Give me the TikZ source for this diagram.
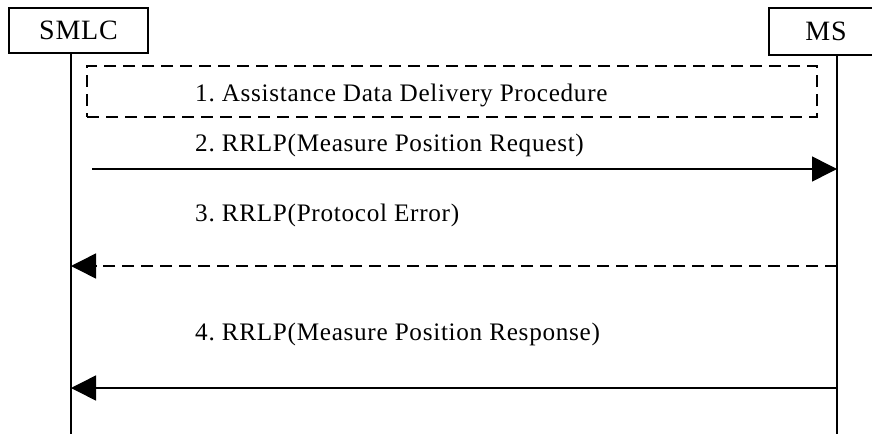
\documentclass[tikz,border=0pt]{standalone}
\usepackage{fontspec}
\setmainfont{Liberation Serif}[LetterSpace=2.8]
\usetikzlibrary{arrows.meta}
\begin{document}
\frenchspacing
\begin{tikzpicture}[x=1pt,y=-1pt,
  entity/.style={draw,line width=1.2pt,minimum height=45pt,inner sep=0pt,font=\fontsize{28}{31}\selectfont},
  lifeline/.style={line width=1.8pt},
  msg/.style={line width=1.5pt,-{Triangle[length=25pt,width=25pt]}},
  lbl/.style={anchor=base west,inner sep=0pt,font=\fontsize{25.2}{28}\selectfont},
  procbox/.style={draw,line width=1.5pt,dash pattern=on 12pt off 7pt,inner sep=0pt}]
\useasboundingbox (0,0) rectangle (872,434);
\clip (0,0) rectangle (872,434);
\fill[white] (0,0) rectangle (872,434);
% entities
\node[entity,minimum width=139pt] (smlc) at (78.5,30.5) {SMLC};
\node[entity,minimum width=114pt,minimum height=47pt] (ms) at (826,31.5) {MS};
% lifelines
\coordinate (smlcA) at (71,53);
\coordinate (smlcB) at (71,434);
\coordinate (msA) at (837,55);
\coordinate (msB) at (837,434);
\draw[lifeline] (smlcA) -- (smlcB);
\draw[lifeline] (msA) -- (msB);
% procedure box
\node[procbox,minimum width=730pt,minimum height=51pt] (proc) at (452,91.5) {};
\node[lbl] (l1) at (195,101) {1. Assistance Data Delivery Procedure};
% message 2
\node[lbl] (l2) at (195,151) {2. RRLP(Measure Position Request)};
\coordinate (m2s) at (92,169);
\coordinate (m2e) at (837,169);
\draw[msg] (m2s) -- (m2e);
% message 3
\node[lbl] (l3) at (195,221) {3. RRLP(Protocol Error)};
\coordinate (m3s) at (837,266);
\coordinate (m3e) at (71,266);
\draw[msg,dash pattern=on 12pt off 7pt] (m3s) -- (m3e);
% message 4
\node[lbl] (l4) at (195,340) {4. RRLP(Measure Position Response)};
\coordinate (m4s) at (837,388);
\coordinate (m4e) at (71,388);
\draw[msg] (m4s) -- (m4e);
\end{tikzpicture}
\end{document}
